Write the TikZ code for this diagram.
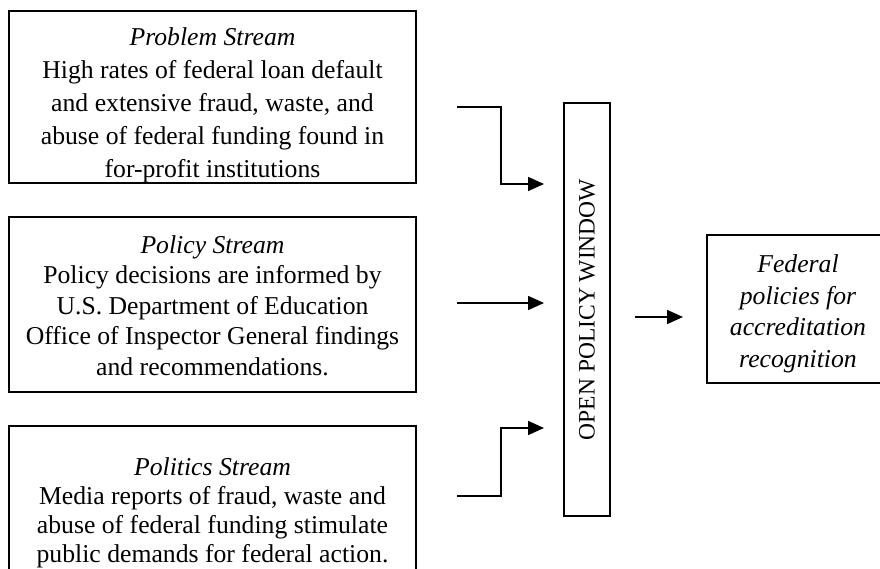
\documentclass[tikz,border=0pt]{standalone}
\usepackage{fontspec}
\setmainfont{Liberation Serif}
\usetikzlibrary{arrows.meta}

\tikzset{
    streambox/.style={draw, line width=1.6pt, minimum width=407pt},
    streamtext/.style={align=center, inner sep=0pt, font=\fontsize{25.7}{#1}\selectfont},
    flow/.style={line width=1.6pt, -{Triangle[length=16pt, width=14pt]}}
}

\begin{document}
\begin{tikzpicture}[x=1pt, y=-1pt]
        \useasboundingbox (0, 0) rectangle (880, 569);

        % Draw the three stream boxes
        \node[streambox, minimum height=172pt] (problem) at (212.5, 97) {};
        \node[streamtext=33] (problemtext) at ([yshift=-8pt]problem.center)
            {\textit{Problem Stream}\\High rates of federal loan default\\and extensive fraud, waste, and\\abuse of federal funding found in\\for-profit institutions};

        \node[streambox, minimum height=175pt] (policy) at (212.5, 304.5) {};
        \node[streamtext=30.5] (policytext) at ([yshift=-1pt]policy.center)
            {\textit{Policy Stream}\\Policy decisions are informed by\\U.S. Department of Education\\Office of Inspector General findings\\and recommendations.};

        \node[streambox, minimum height=172pt] (politics) at (212.5, 512) {};
        \node[streamtext=29] (politicstext) at ([yshift=-1pt]politics.center)
            {\textit{Politics Stream}\\Media reports of fraud, waste and\\abuse of federal funding stimulate\\public demands for federal action.};

        % Draw the policy window
        \node[draw, line width=1.6pt, rotate=90, minimum width=413pt, minimum height=46pt,
            inner sep=0pt, font=\fontsize{23.5}{28}\selectfont] (window) at (587, 309.5)
            {OPEN POLICY WINDOW};

        % Draw the outcome box
        \node[draw, line width=1.6pt, minimum width=182pt, minimum height=148pt] (outcome) at (798, 309) {};
        \node[streamtext=31.5, font=\fontsize{25.7}{31.5}\selectfont\itshape] (outcometext)
            at ([yshift=-5pt]outcome.center)
            {Federal\\policies for\\accreditation\\recognition};

        % Draw the arrows into the window
        \coordinate (probstart) at (457, 107);
        \coordinate (probend) at (544, 184);
        \draw[flow] (probstart) -- ++(44, 0) |- (probend);

        \coordinate (polstart) at (457, 303);
        \coordinate (polend) at (544, 303);
        \draw[flow] (polstart) -- (polend);

        \coordinate (poltstart) at (457, 496);
        \coordinate (poltend) at (544, 428);
        \draw[flow] (poltstart) -- ++(44, 0) |- (poltend);

        % Draw the arrow out of the window
        \coordinate (outstart) at (635, 317);
        \coordinate (outend) at (683, 317);
        \draw[flow] (outstart) -- (outend);
    \end{tikzpicture}
\end{document}
